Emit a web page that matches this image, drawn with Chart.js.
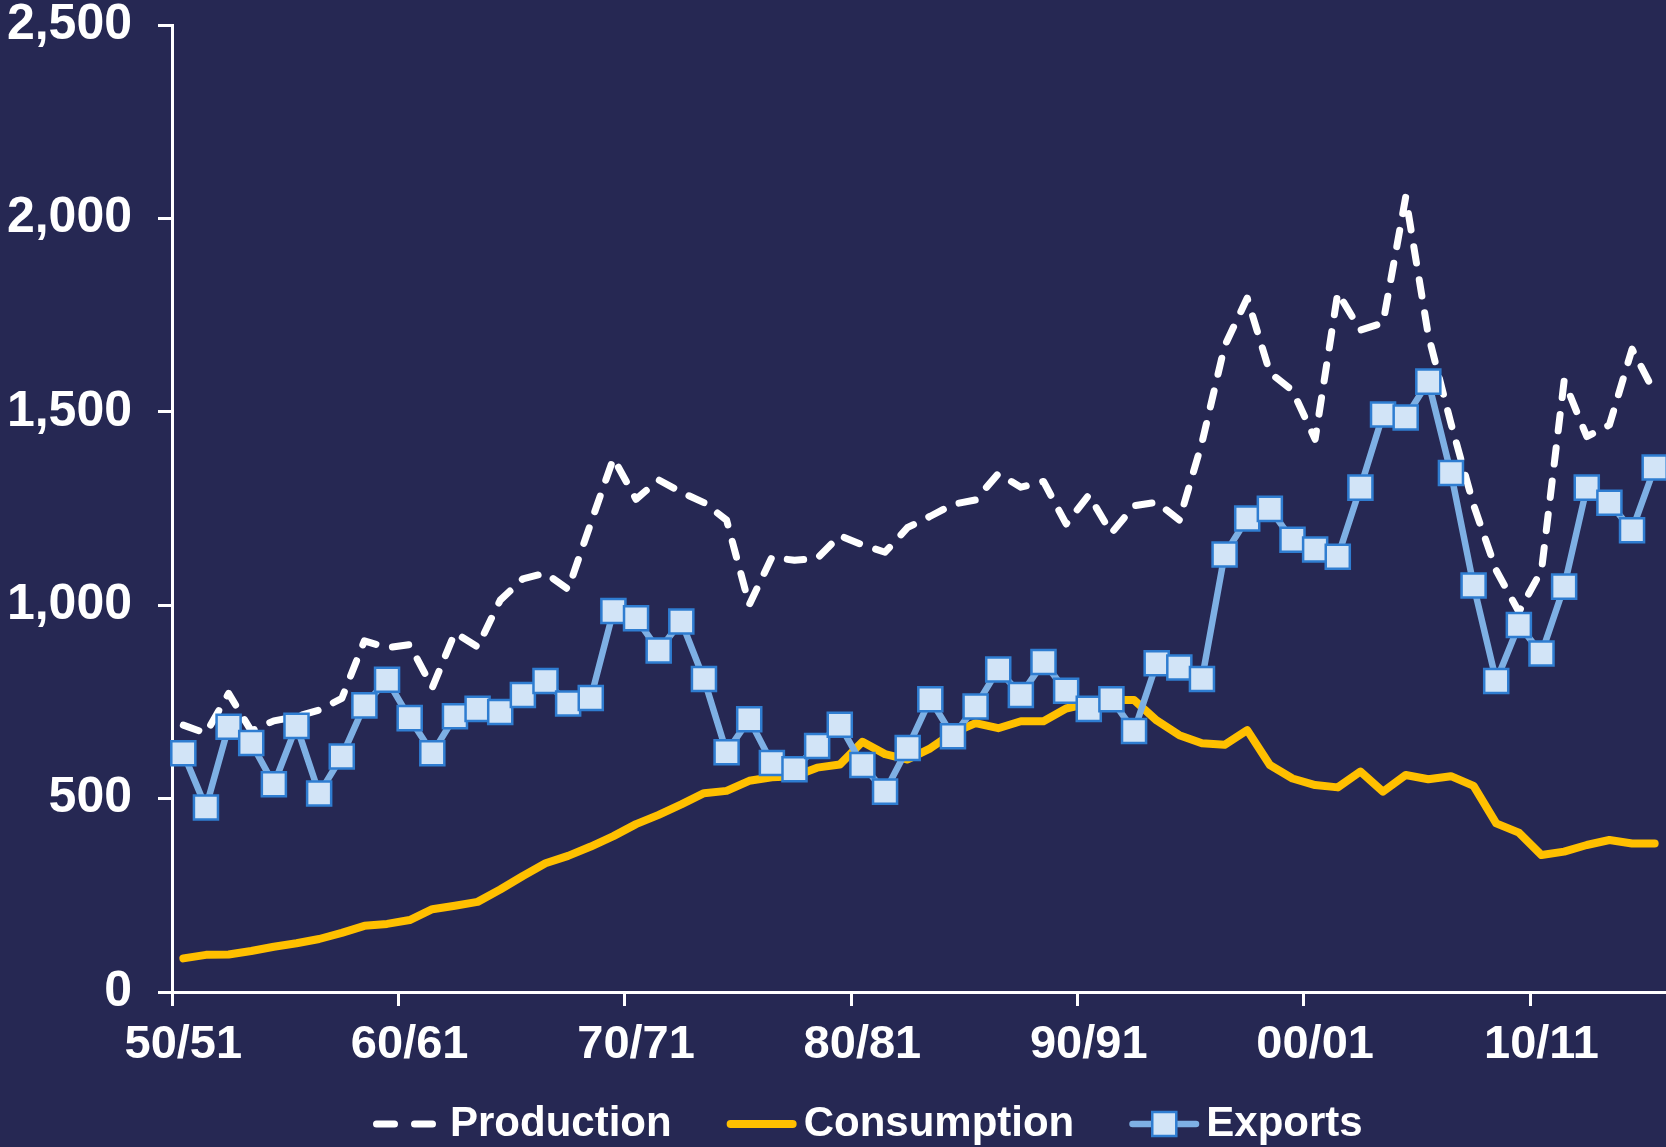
<!DOCTYPE html>
<html>
<head>
<meta charset="utf-8">
<script src="https://cdn.jsdelivr.net/npm/chart.js@4.4.1/dist/chart.umd.min.js"></script>
<style>
  html, body { margin: 0; padding: 0; background: #262853; overflow: hidden; }
  #wrap { width: 1666px; height: 1147px; position: relative; }
</style>
</head>
<body>
<div id="wrap"><canvas id="c"></canvas></div>
<script>
// ---- Data ----
const seasons = [];
for (let y = 1950; y <= 2015; y++) {
  const a = String(y % 100).padStart(2, '0');
  const b = String((y + 1) % 100).padStart(2, '0');
  seasons.push(a + '/' + b);
}
const tickLabels = ['50/51', '60/61', '70/71', '80/81', '90/91', '00/01', '10/11'];

const production = [
  690, 669, 772, 675, 701, 712, 729, 759, 908, 890,
  898, 787, 929, 892, 1013, 1068, 1083, 1041, 1212, 1380,
  1274, 1324, 1292, 1265, 1220, 1001, 1124, 1116, 1121, 1180,
  1156, 1137, 1201, 1230, 1261, 1272, 1340, 1305, 1320, 1210,
  1285, 1186, 1257, 1266, 1220, 1420, 1670, 1794, 1601, 1555,
  1429, 1808, 1711, 1730, 2055, 1698, 1470, 1259, 1090, 983,
  1090, 1580, 1436, 1466, 1662, 1550
];
const consumption = [
  87, 96, 97, 106, 117, 126, 137, 153, 171, 176,
  186, 214, 223, 233, 265, 300, 333, 352, 376, 403,
  434, 458, 485, 514, 520, 546, 555, 558, 580, 588,
  647, 615, 601, 630, 670, 695, 682, 700, 700, 733,
  746, 755, 755, 702, 664, 643, 639, 677, 587, 552,
  535, 529, 570, 518, 561, 550, 558, 533, 436, 412,
  354, 363, 380, 393, 384, 384
];
const exportsData = [
  617, 477, 686, 644, 537, 688, 513, 609, 741, 807,
  708, 617, 713, 732, 724, 768, 804, 746, 760, 985,
  966, 883, 958, 809, 620, 705, 592, 576, 636, 691,
  587, 518, 631, 757, 661, 738, 834, 768, 853, 779,
  732, 757, 675, 850, 839, 809, 1131, 1224, 1249, 1169,
  1144, 1125, 1304, 1493, 1485, 1578, 1342, 1051, 804, 949,
  875, 1048, 1304, 1265, 1194, 1356
];
const yTicks = [0, 500, 1000, 1500, 2000, 2500];

// ---- Styles ----
const BG = '#262853';
const FONT = '"Liberation Sans", Arial, Helvetica, sans-serif';

const bgPlugin = {
  id: 'bg',
  beforeDraw(chart) {
    const c = chart.ctx;
    c.save();
    c.fillStyle = BG;
    c.fillRect(0, 0, chart.width, chart.height);
    c.restore();
  }
};

const legendPlugin = {
  id: 'customLegend',
  afterDraw(chart) {
    const c = chart.ctx;
    c.save();
    c.font = 'bold 42px ' + FONT;
    c.textBaseline = 'middle';
    c.textAlign = 'left';
    const y = 1124;
    let x = 373;
    chart.data.datasets.forEach((ds) => {
      const sampleW = 70;
      const hw = ds.borderWidth / 2;
      c.save();
      c.strokeStyle = ds.borderColor;
      c.lineWidth = ds.borderWidth;
      c.lineCap = 'round';
      c.setLineDash(ds.borderDash ? [18, 20] : []);
      c.beginPath();
      c.moveTo(x + hw, y);
      c.lineTo(x + sampleW - hw, y);
      c.stroke();
      c.restore();
      if (ds.pointRadius > 0) {
        const s = ds.pointRadius * Math.SQRT1_2;
        const cx = x + sampleW / 2;
        c.save();
        c.fillStyle = ds.pointBackgroundColor;
        c.strokeStyle = ds.pointBorderColor;
        c.lineWidth = ds.pointBorderWidth;
        c.beginPath();
        c.rect(cx - s, y - s, 2 * s, 2 * s);
        c.fill();
        c.stroke();
        c.restore();
      }
      c.fillStyle = '#ffffff';
      const tx = x + sampleW + 7;
      c.fillText(ds.label, tx, y);
      x = tx + c.measureText(ds.label).width + 55;
    });
    c.restore();
  }
};

const ctx = document.getElementById('c').getContext('2d');
new Chart(ctx, {
  type: 'line',
  data: {
    labels: seasons,
    datasets: [
      {
        label: 'Production',
        data: production,
        borderColor: '#ffffff',
        borderWidth: 7,
        borderDash: [16.5, 17],
        borderCapStyle: 'round',
        borderJoinStyle: 'round',
        pointRadius: 0,
        tension: 0,
        order: 3,
        clip: false
      },
      {
        label: 'Consumption',
        data: consumption,
        borderColor: '#FFC000',
        borderWidth: 8,
        borderCapStyle: 'round',
        borderJoinStyle: 'round',
        pointRadius: 0,
        tension: 0,
        order: 2,
        clip: false
      },
      {
        label: 'Exports',
        data: exportsData,
        borderColor: '#7EB0E4',
        borderWidth: 6.5,
        borderCapStyle: 'round',
        borderJoinStyle: 'round',
        pointStyle: 'rect',
        pointRadius: 17,
        pointBackgroundColor: '#D2E4F7',
        pointBorderColor: '#2F7DD1',
        pointBorderWidth: 2.5,
        pointHoverRadius: 17,
        tension: 0,
        order: 1,
        clip: false
      }
    ]
  },
  options: {
    responsive: true,
    maintainAspectRatio: false,
    animation: false,
    devicePixelRatio: 1,
    layout: { autoPadding: false, padding: { top: 0, right: 0, bottom: 80, left: 0 } },
    plugins: {
      legend: { display: false },
      tooltip: { enabled: false }
    },
    scales: {
      x: {
        type: 'category',
        offset: true,
        grid: {
          offset: true,
          drawOnChartArea: false,
          drawTicks: true,
          tickLength: 14,
          tickWidth: 3,
          tickColor: (c) => (c.index % 10 === 0 ? '#ffffff' : 'rgba(0,0,0,0)'),
          color: 'rgba(0,0,0,0)'
        },
        border: { display: true, color: '#ffffff', width: 3 },
        ticks: {
          autoSkip: false,
          maxRotation: 0,
          minRotation: 0,
          padding: 16,
          color: '#ffffff',
          font: { family: FONT, size: 47, weight: 'bold', lineHeight: 1.0 },
          callback: function (value, index) {
            const lab = seasons[index];
            return tickLabels.includes(lab) ? lab : '';
          }
        },
        afterFit: (scale) => {
          scale.height = 75;
          scale.paddingLeft = 0;
          scale.paddingRight = 0;
        }
      },
      y: {
        min: 0,
        max: 2500,
        afterBuildTicks: (scale) => { scale.ticks = yTicks.map(v => ({ value: v })); },
        grid: {
          drawOnChartArea: false,
          drawTicks: true,
          tickLength: 14,
          tickWidth: 3,
          tickColor: '#ffffff',
          color: 'rgba(0,0,0,0)'
        },
        border: { display: true, color: '#ffffff', width: 3 },
        ticks: {
          padding: 26,
          color: '#ffffff',
          font: { family: FONT, size: 50, weight: 'bold', lineHeight: 1.0 },
          callback: (v) => Number(v).toLocaleString('en-US')
        },
        afterFit: (scale) => {
          scale.width = 172;
          scale.paddingTop = 25;
          scale.paddingBottom = 0;
        }
      }
    }
  },
  plugins: [bgPlugin, legendPlugin]
});
</script>
</body>
</html>
